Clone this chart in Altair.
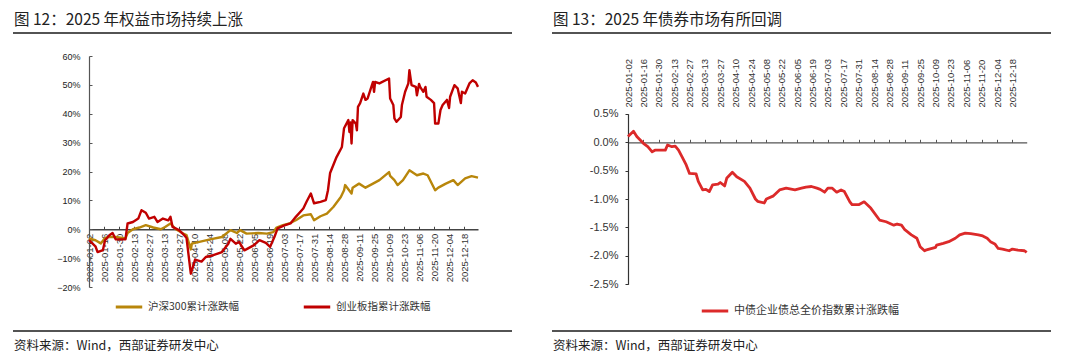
import altair as alt
import pandas as pd

# ---------------- text ----------------
TITLE_LEFT = "图 12：2025 年权益市场持续上涨"
TITLE_RIGHT = "图 13：2025 年债券市场有所回调"
SOURCE = "资料来源：Wind，西部证券研发中心"
SERIES_HS300 = "沪深300累计涨跌幅"
SERIES_CYB = "创业板指累计涨跌幅"
SERIES_BOND = "中债企业债总全价指数累计涨跌幅"

# ---------------- data (cumulative change, %) ----------------
HS300_DATES = ["01-02", "01-08", "01-13", "01-17", "01-21", "01-27", "02-05", "02-07", "02-12",
               "02-18", "02-24", "03-03", "03-10", "03-14", "03-19", "03-24", "03-31", "04-03",
               "04-07", "04-08", "04-16", "04-25", "05-06", "05-14", "05-20", "05-23", "05-29",
               "06-09", "06-17", "06-23", "06-26", "07-02", "07-08", "07-14", "07-21", "07-28",
               "07-31", "08-06", "08-12", "08-18", "08-25", "08-28", "08-29", "09-04", "09-05",
               "09-11", "09-17", "09-24", "09-30", "10-09", "10-10", "10-14", "10-17", "10-22",
               "10-28", "11-04", "11-10", "11-14", "11-21", "11-24", "12-01", "12-08", "12-12",
               "12-19", "12-25", "12-31"]
HS300_VALUES = [-3.2, -3.8, -4.9, -3.0, -2.7, -2.7, -3.2, -1.3, 0.0,
                0.6, 1.4, 0.6, 0.0, 0.8, 2.0, 0.0, -1.5, -2.0,
                -7.0, -5.0, -4.3, -3.5, -2.7, -0.3, -1.3, -0.3, -1.5,
                -1.3, -1.5, -1.0, 0.6, 1.4, 2.0, 3.1, 4.8, 5.2,
                3.1, 4.5, 5.4, 7.7, 11.2, 13.5, 15.3, 12.4, 14.4,
                15.8, 14.4, 15.8, 17.0, 19.8, 18.5, 17.0, 15.3, 17.0,
                20.4, 18.7, 19.3, 18.7, 13.5, 14.4, 15.8, 17.0, 15.3,
                17.6, 18.4, 17.9]

CYB_DATES = ["01-02", "01-08", "01-10", "01-15", "01-17", "01-21", "01-24", "01-27", "02-05",
             "02-07", "02-12", "02-17", "02-20", "02-24", "02-27", "03-04", "03-07", "03-12",
             "03-17", "03-19", "03-21", "03-27", "04-01", "04-03", "04-07", "04-09", "04-11",
             "04-17", "04-21", "04-28", "05-06", "05-12", "05-14", "05-19", "05-22", "05-27",
             "06-05", "06-10", "06-16", "06-20", "06-24", "06-27", "07-04", "07-09", "07-14",
             "07-21", "07-24", "07-28", "07-31", "08-06", "08-11", "08-13", "08-15", "08-21",
             "08-26", "08-28", "09-01", "09-02", "09-03", "09-04", "09-05", "09-08", "09-09",
             "09-10", "09-12", "09-15", "09-17", "09-19", "09-24", "09-25", "09-26", "09-30",
             "10-09", "10-10", "10-13", "10-14", "10-16", "10-20", "10-21", "10-24", "10-27",
             "10-28", "10-30", "11-03", "11-04", "11-06", "11-07", "11-10", "11-12", "11-13",
             "11-17", "11-20", "11-21", "11-24", "11-26", "11-28", "12-02", "12-04", "12-05",
             "12-09", "12-12", "12-15", "12-16", "12-19", "12-23", "12-26", "12-29", "12-31"]
CYB_VALUES = [-3.8, -5.9, -7.9, -7.2, -3.8, -2.1, -1.3, -3.5, -3.5,
              2.0, 2.5, 3.7, 6.6, 5.7, 3.7, 4.3, 2.5, 3.7,
              3.1, 4.3, 0.8, -0.3, -2.1, -3.0, -15.4, -13.0, -10.5,
              -11.2, -9.6, -9.0, -7.9, -5.0, -3.3, -5.0, -4.4, -7.3,
              -5.5, -3.8, -4.7, -6.1, -2.7, 0.3, 1.4, 2.0, 4.3,
              7.2, 9.5, 12.4, 9.0, 9.5, 10.1, 13.5, 19.5, 25.0,
              28.5, 35.0, 37.8, 33.7, 37.0, 29.7, 37.8, 36.6, 34.3,
              42.4, 43.7, 47.0, 44.8, 45.3, 51.0, 47.6, 51.0, 50.5,
              52.2, 45.3, 43.0, 38.4, 37.2, 38.9, 43.0, 47.6, 50.5,
              55.1, 49.9, 49.3, 46.4, 50.3, 49.3, 47.6, 49.3, 45.9,
              44.8, 43.7, 36.6, 36.6, 41.3, 43.0, 44.8, 42.0, 45.9,
              49.9, 48.8, 43.7, 47.6, 47.0, 50.5, 51.6, 50.8, 49.3]

BOND_DATES = ["01-02", "01-07", "01-10", "01-16", "01-20", "01-24", "01-27", "02-05", "02-07",
              "02-11", "02-14", "02-17", "02-20", "02-24", "02-27", "03-05", "03-07", "03-11",
              "03-14", "03-17", "03-20", "03-25", "03-27", "03-31", "04-02", "04-07", "04-11",
              "04-18", "04-23", "04-28", "04-30", "05-06", "05-08", "05-14", "05-20", "05-26",
              "06-03", "06-09", "06-13", "06-18", "06-23", "06-26", "06-30", "07-03", "07-07",
              "07-11", "07-15", "07-18", "07-23", "07-25", "07-31", "08-05", "08-11", "08-19",
              "08-25", "09-01", "09-04", "09-08", "09-11", "09-17", "09-22", "09-25", "09-29",
              "09-30", "10-09", "10-10", "10-16", "10-21", "10-27", "10-31", "11-05", "11-10",
              "11-17", "11-21", "11-25", "11-28", "12-02", "12-05", "12-09", "12-15", "12-18",
              "12-23", "12-29", "12-31"]
BOND_VALUES = [0.10, 0.19, 0.10, -0.02, -0.08, -0.17, -0.14, -0.14, -0.05,
               -0.08, -0.07, -0.14, -0.25, -0.40, -0.55, -0.56, -0.69, -0.84,
               -0.83, -0.87, -0.75, -0.74, -0.71, -0.77, -0.63, -0.53, -0.61,
               -0.69, -0.81, -1.00, -1.04, -1.07, -1.00, -0.95, -0.84, -0.81,
               -0.84, -0.81, -0.79, -0.78, -0.81, -0.83, -0.88, -0.81, -0.81,
               -0.88, -0.84, -0.87, -1.05, -1.10, -1.10, -1.05, -1.16, -1.37,
               -1.40, -1.46, -1.44, -1.46, -1.54, -1.63, -1.69, -1.84, -1.91,
               -1.90, -1.85, -1.81, -1.78, -1.75, -1.69, -1.63, -1.60, -1.61,
               -1.63, -1.65, -1.69, -1.75, -1.79, -1.87, -1.88, -1.91, -1.88,
               -1.90, -1.91, -1.94]

TICK_DATES = ["01-02", "01-16", "01-30", "02-13", "02-27", "03-13", "03-27", "04-10", "04-24",
              "05-08", "05-22", "06-05", "06-19", "07-03", "07-17", "07-31", "08-14", "08-28",
              "09-11", "09-25", "10-09", "10-23", "11-06", "11-20", "12-04", "12-18"]
LEFT_Y_TICKS = [-20, -10, 0, 10, 20, 30, 40, 50, 60]
RIGHT_Y_TICKS = [-2.5, -2.0, -1.5, -1.0, -0.5, 0.0, 0.5]

# ---------------- style ----------------
CJK = "Noto Sans CJK SC"
LAT = "Liberation Sans"
GOLD = "#B8860B"
RED_L = "#C00000"
RED_R = "#DC2A2A"
INK = "#222222"


def dt(md):
    m, d = md.split("-")
    return alt.DateTime(year=2025, month=int(m), date=int(d), utc=True)


TICK_VALUES = [dt(d) for d in TICK_DATES]
X_DOMAIN = [dt("01-02"), dt("12-31")]

left_df = pd.DataFrame({
    "date": ["2025-" + d for d in HS300_DATES] + ["2025-" + d for d in CYB_DATES],
    "value": HS300_VALUES + CYB_VALUES,
    "series": [SERIES_HS300] * len(HS300_DATES) + [SERIES_CYB] * len(CYB_DATES),
})
right_df = pd.DataFrame({
    "date": ["2025-" + d for d in BOND_DATES],
    "value": BOND_VALUES,
    "series": [SERIES_BOND] * len(BOND_DATES),
})

W, H = 1064, 346
xs_left = alt.Scale(type="utc", domain=X_DOMAIN, range=[81, 470])
ys_left = alt.Scale(domain=[-20, 60], range=[279, 48], nice=False, zero=False)
xs_right = alt.Scale(type="utc", domain=X_DOMAIN, range=[620, 1018.7])
ys_right = alt.Scale(domain=[-2.5, 0.5], range=[276.3, 105.7], nice=False, zero=False)
LEFT_ZERO = 221.25
RIGHT_ZERO = 134.3

DATE_LABEL = "utcFormat(datum.value, '%Y-%m-%d')"
date_axis_common = dict(values=TICK_VALUES, labelExpr=DATE_LABEL, labelAngle=-90,
                        labelFont=LAT, labelFontSize=9.5, labelColor="#333333", grid=False,
                        title=None, labelOverlap=False, labelFlush=False, labelBound=False)

left_lines = alt.Chart(left_df).mark_line(strokeWidth=2.4, strokeJoin="round").encode(
    x=alt.X("date:T", scale=xs_left, axis=alt.Axis(
        orient="bottom", offset=-(H - LEFT_ZERO), domain=True, domainColor="#444444", domainWidth=1.3,
        ticks=False, tickSize=0, labelPadding=4, **date_axis_common)),
    y=alt.Y("value:Q", scale=ys_left, axis=alt.Axis(
        orient="left", offset=-81, values=LEFT_Y_TICKS, labelExpr="format(datum.value, 'd') + '%'",
        domainColor="#555555", domainWidth=1.2, ticks=False, tickSize=0, labelPadding=9,
        labelFont=LAT, labelFontSize=9, labelColor="#222222", grid=False, title=None)),
    color=alt.Color("series:N", scale=alt.Scale(domain=[SERIES_HS300, SERIES_CYB], range=[GOLD, RED_L]),
                    legend=alt.Legend(orient="none", legendX=106, legendY=284, direction="horizontal",
                                      title=None, symbolType="stroke", symbolSize=700, symbolStrokeWidth=3,
                                      labelFont=CJK, labelFontSize=10.5, labelColor="#333333",
                                      columnPadding=58, labelOffset=4, padding=0, labelLimit=300)),
)

# invisible helper layer: upward x ticks on the zero line + inward y ticks
left_ticks = alt.Chart(left_df).mark_line(strokeOpacity=0).encode(
    x=alt.X("date:T", scale=xs_left, axis=alt.Axis(
        orient="top", offset=-LEFT_ZERO, domain=False, ticks=True, tickSize=3, tickColor="#444444",
        labels=False, values=TICK_VALUES, grid=False, title=None)),
    y=alt.Y("value:Q", scale=ys_left, axis=alt.Axis(
        orient="right", offset=-(W - 81), domain=False, ticks=True, tickSize=3, tickColor="#555555",
        labels=False, values=LEFT_Y_TICKS, grid=False, title=None)),
    detail="series:N",
)

right_line = alt.Chart(right_df).mark_line(strokeWidth=2.8, strokeJoin="round").encode(
    x=alt.X("date:T", scale=xs_right, axis=alt.Axis(
        orient="top", offset=-103, domain=False, ticks=False, tickSize=0, labelPadding=4,
        **date_axis_common)),
    y=alt.Y("value:Q", scale=ys_right, axis=alt.Axis(
        orient="left", offset=-620, values=RIGHT_Y_TICKS,
        labelExpr="(datum.value < 0 ? '-' : '') + format(abs(datum.value), '.1f') + '%'",
        domainColor="#333333", domainWidth=1.2, ticks=True, tickSize=3, tickColor="#333333",
        labelPadding=7, labelFont=LAT, labelFontSize=11, labelColor="#333333", grid=False,
        title=None)),
    color=alt.Color("series:N", scale=alt.Scale(domain=[SERIES_BOND], range=[RED_R]),
                    legend=alt.Legend(orient="none", legendX=692, legendY=288, direction="horizontal",
                                      title=None, symbolType="stroke", symbolSize=700, symbolStrokeWidth=3,
                                      labelFont=CJK, labelFontSize=11, labelColor="#333333",
                                      labelOffset=4, padding=0, labelLimit=400)),
)

right_ticks = alt.Chart(right_df).mark_line(strokeOpacity=0).encode(
    x=alt.X("date:T", scale=xs_right, axis=alt.Axis(
        orient="top", offset=-RIGHT_ZERO, domain=True, domainColor="#555555", domainWidth=1.2,
        ticks=True, tickSize=3, tickColor="#555555", labels=False, values=TICK_VALUES,
        grid=False, title=None)),
    y=alt.Y("value:Q", scale=ys_right, axis=None),
)

ANCHOR = pd.DataFrame({"k": [0]})


def text_layer(txt, x, y, size, color=INK, font=CJK):
    return alt.Chart(ANCHOR).mark_text(align="left", baseline="middle", font=font, fontSize=size,
                                       color=color).encode(
        x=alt.value(x), y=alt.value(y), text=alt.value(txt))


def rule_layer(x1, x2, y):
    return alt.Chart(ANCHOR).mark_rule(color="#1a1a1a", strokeWidth=1.4).encode(
        x=alt.value(x1), x2=alt.value(x2), y=alt.value(y))


decor = [
    text_layer(TITLE_LEFT, 6, 11.5, 15.5),
    text_layer(TITLE_RIGHT, 545, 11.5, 15.5),
    rule_layer(5, 504, 25),
    rule_layer(544, 1043, 25),
    rule_layer(5, 504, 323),
    rule_layer(544, 1043, 323),
    text_layer(SOURCE, 6, 337.5, 12.5),
    text_layer(SOURCE, 545, 337.5, 12.5),
]

chart = alt.layer(left_ticks, left_lines, right_ticks, right_line, *decor).resolve_scale(
    x="independent", y="independent", color="independent"
).properties(
    width=W, height=H, padding=0, background="white",
    autosize=alt.AutoSizeParams(type="none"),
).configure_view(stroke=None)

chart.save("out.html", embed_options={"renderer": "svg", "actions": False})
